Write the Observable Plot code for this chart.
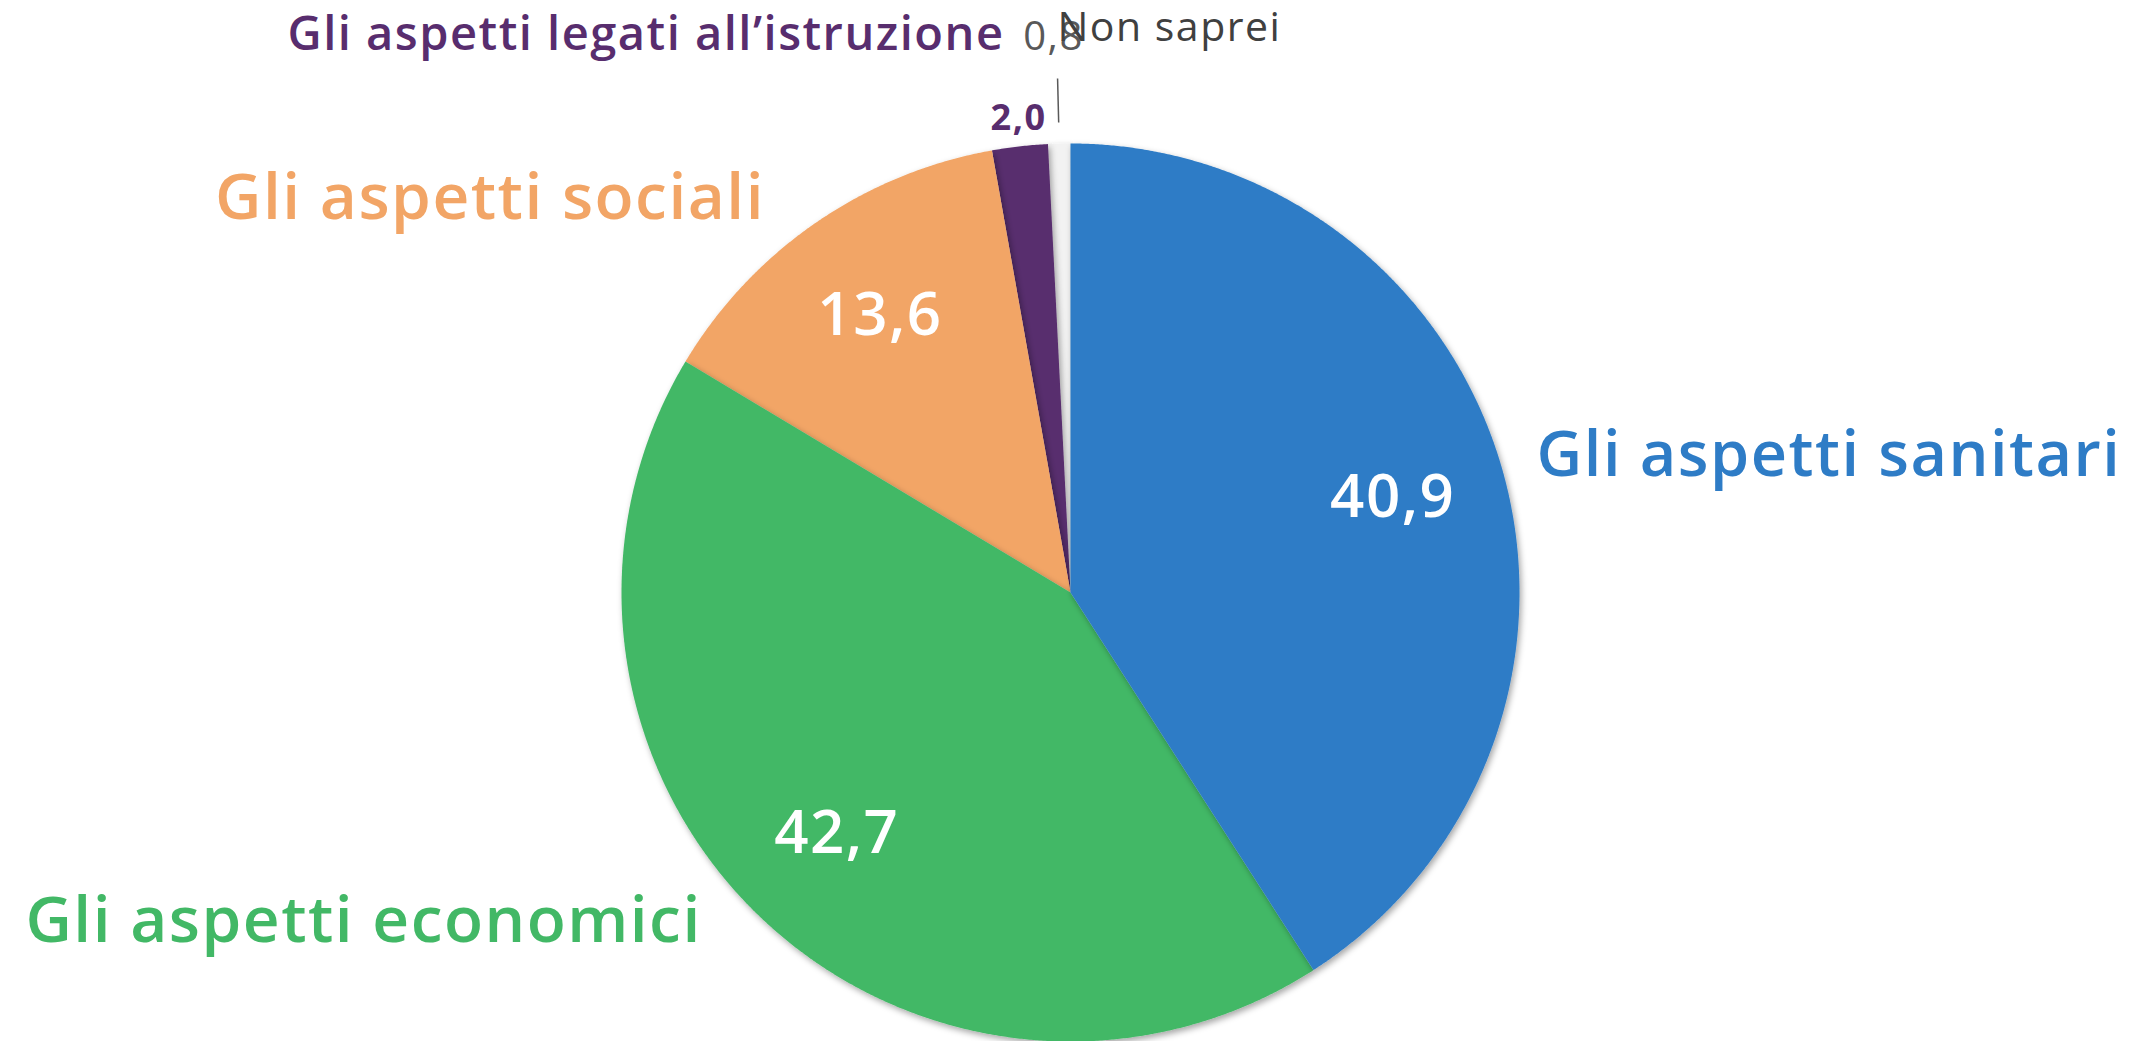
<!DOCTYPE html>
<html><head><meta charset="utf-8">
<script src="https://cdn.jsdelivr.net/npm/d3@7"></script>
<script src="https://cdn.jsdelivr.net/npm/@observablehq/plot@0.6"></script>
<style>
html,body{margin:0;padding:0;background:#fff;overflow:hidden}
#chart{width:2156px;height:1041px}
</style></head><body><div id="chart"></div>
<script>
// ---- data ----
const categories = ["Gli aspetti sanitari", "Gli aspetti economici", "Gli aspetti sociali", "Gli aspetti legati all’istruzione", "Non saprei"];
const values = [40.9, 42.7, 13.6, 2.0, 0.8];
const valueLabels = ["40,9", "42,7", "13,6", "2,0", "0,8"];
const sliceColors = ["#2e7cc6", "#42b866", "#f2a566", "#582d6e", "#f2f2f2"];
const nameColors = ["#2e7cc6", "#42b866", "#f2a566", "#582d6e", "#404040"];
const valueColors = ["#ffffff", "#ffffff", "#ffffff", "#582d6e", "#595959"];

// ---- layout ----
const W = 2156, H = 1041, CX = 1070, CY = 592, RPX = 449;
const FONT = "'Open Sans', Lato, sans-serif";
const nameLayout = [
  {r: 1.082, shift: 0, anchor: "start", size: 63, weight: 600},
  {r: 1.100, shift: 4.2, anchor: "end", size: 64, weight: 600},
  {r: 1.111, shift: -3.2, anchor: "end", size: 64, weight: 600},
  {r: 1.251, shift: -0.27, anchor: "end", size: 47, weight: 600},
  {r: 1.257, shift: 0.12, anchor: "start", size: 41, weight: 400}
];
const valueLayout = [
  {r: 0.748, shift: 0, size: 60, weight: 600},
  {r: 0.748, shift: 0, size: 60, weight: 600},
  {r: 0.748, shift: 0, size: 60, weight: 600},
  {r: 1.063, shift: 0.23, size: 36, weight: 700},
  {r: 1.237, shift: -0.31, size: 40, weight: 400}
];

// ---- geometry ----
const total = d3.sum(values);
let acc = 0;
const slices = categories.map((cat, i) => {
  const start = acc / total * 360;
  acc += values[i];
  const end = acc / total * 360;
  return {cat, i, start, end, mid: (start + end) / 2};
});
const rad = a => a * Math.PI / 180;
const polar = (deg, r) => ({x: r * Math.sin(rad(deg)), y: r * Math.cos(rad(deg))});

const pts = [];
for (const s of [...slices].reverse()) {
  pts.push({cat: s.cat, x: 0, y: 0});
  const n = Math.max(2, Math.ceil((s.end - s.start) / 0.25));
  for (let k = 0; k <= n; k++) {
    const p = polar(s.start + (s.end - s.start) * k / n, 1);
    pts.push({cat: s.cat, ...p});
  }
  pts.push({cat: s.cat, x: 0, y: 0});
}

const marks = [
  Plot.line(pts, {x: "x", y: "y", z: "cat", fill: "cat", stroke: "none", curve: "linear"})
];

// leader line for "Non saprei"
const ns = slices[4];
const l0 = polar(ns.mid, 1.047), l1 = polar(ns.mid, 1.145);
marks.push(Plot.link([{x1: l0.x, y1: l0.y, x2: l1.x, y2: l1.y}], {x1: "x1", y1: "y1", x2: "x2", y2: "y2", stroke: "#595959", strokeWidth: 1.5}));

// value labels
slices.forEach((s, i) => {
  const L = valueLayout[i];
  const p = polar(s.mid + L.shift, L.r);
  marks.push(Plot.text([{...p, t: valueLabels[i]}], {
    x: "x", y: "y", text: "t", fill: valueColors[i], fontSize: L.size, fontWeight: L.weight,
    fontFamily: FONT, textAnchor: "middle", lineAnchor: "middle"
  }));
});
// category labels
slices.forEach((s, i) => {
  const L = nameLayout[i];
  const p = polar(s.mid + L.shift, L.r);
  marks.push(Plot.text([{...p, t: s.cat}], {
    x: "x", y: "y", text: "t", fill: nameColors[i], fontSize: L.size, fontWeight: L.weight,
    fontFamily: FONT, textAnchor: L.anchor, lineAnchor: "middle"
  }));
});

const chart = Plot.plot({
  width: W, height: H, margin: 0,
  x: {domain: [-CX / RPX, (W - CX) / RPX], range: [0, W], axis: null},
  y: {domain: [-(H - CY) / RPX, CY / RPX], range: [H, 0], axis: null},
  color: {domain: categories, range: sliceColors},
  style: {background: "#fff", overflow: "visible", letterSpacing: "1.5px"},
  marks
});

// drop shadow for slices
const NS = "http://www.w3.org/2000/svg";
const defs = document.createElementNS(NS, "defs");
defs.innerHTML = `<filter id="sh" x="-10%" y="-10%" width="120%" height="120%"><feDropShadow dx="2" dy="3" stdDeviation="3" flood-color="#000" flood-opacity="0.35"/></filter>`;
chart.insertBefore(defs, chart.firstChild);
chart.querySelectorAll('g[aria-label="line"] path').forEach(p => p.setAttribute("filter", "url(#sh)"));

document.getElementById("chart").appendChild(chart);
</script></body></html>
